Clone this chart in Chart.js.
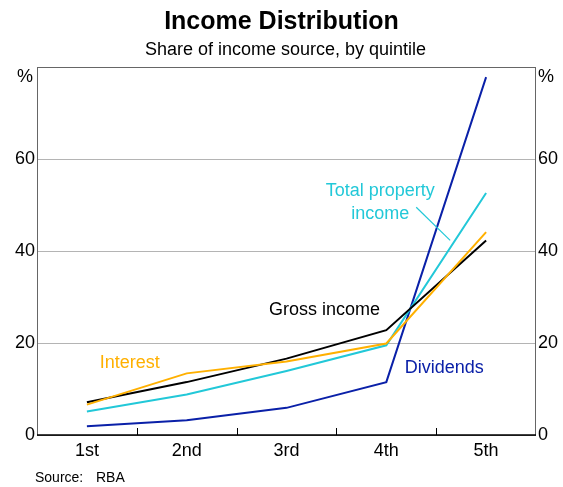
<!DOCTYPE html>
<html>
<head>
<meta charset="utf-8">
<script src="https://cdn.jsdelivr.net/npm/chart.js@4.4.1/dist/chart.umd.min.js"></script>
<style>
  html, body { margin: 0; padding: 0; background: #ffffff; }
  #wrap { width: 563px; height: 487px; }
</style>
</head>
<body>
<div id="wrap"><canvas id="c" width="563" height="487"></canvas></div>
<script>
// Income quintiles and each income source's share (%)
const quintiles = ['1st', '2nd', '3rd', '4th', '5th'];
const interest = [6.6, 13.4, 16.0, 19.9, 44.1];
const grossIncome = [7.1, 11.5, 16.6, 22.8, 42.3];
const totalProperty = [5.1, 8.8, 13.9, 19.5, 52.6];
const dividends = [1.9, 3.2, 5.9, 11.5, 77.8];
const yTicks = [0, 20, 40, 60, 80];

const FONT = '"Liberation Sans", Arial, sans-serif';
const C_INTEREST = '#FFB000';
const C_GROSS = '#000000';
const C_TOTAL = '#22C8D8';
const C_DIV = '#0A20A8';

// Series labels placed in data space (category index, value)
const seriesLabels = [
  { text: ['Interest'], color: C_INTEREST, x: 0.43, y: 15.6 },
  { text: ['Gross income'], color: C_GROSS, x: 2.38, y: 27.1 },
  { text: ['Dividends'], color: C_DIV, x: 3.58, y: 14.5 },
  { text: ['Total property', 'income'], color: C_TOTAL, x: 2.94, y: 53.0 }
];
const leader = { color: C_TOTAL, from: [3.30, 49.5], to: [3.64, 42.3] };

const decor = {
  id: 'decor',
  afterDatasetsDraw(chart) {
    const ctx = chart.ctx;
    const a = chart.chartArea;
    const xs = chart.scales.x, ys = chart.scales.y;
    ctx.save();
    // plot frame
    ctx.strokeStyle = '#666666';
    ctx.lineWidth = 1;
    ctx.strokeRect(a.left + 0.5, a.top + 0.5, a.right - a.left - 1, a.bottom - a.top);
    // zero axis
    ctx.strokeStyle = '#000000';
    ctx.lineWidth = 1.5;
    ctx.beginPath();
    ctx.moveTo(a.left, a.bottom);
    ctx.lineTo(a.right, a.bottom);
    ctx.stroke();
    // category boundary ticks pointing into the plot
    ctx.lineWidth = 1;
    for (let i = 0; i < quintiles.length - 1; i++) {
      const px = Math.round((xs.getPixelForValue(i) + xs.getPixelForValue(i + 1)) / 2) + 0.5;
      ctx.beginPath();
      ctx.moveTo(px, a.bottom);
      ctx.lineTo(px, a.bottom - 7);
      ctx.stroke();
    }
    // series labels
    ctx.font = '18px ' + FONT;
    ctx.textAlign = 'center';
    ctx.textBaseline = 'middle';
    seriesLabels.forEach(l => {
      ctx.fillStyle = l.color;
      const px = xs.getPixelForValue(l.x);
      let py = ys.getPixelForValue(l.y);
      l.text.forEach(t => { ctx.fillText(t, px, py); py += 23; });
    });
    // leader line for the total property label
    ctx.strokeStyle = leader.color;
    ctx.lineWidth = 1.2;
    ctx.beginPath();
    ctx.moveTo(xs.getPixelForValue(leader.from[0]), ys.getPixelForValue(leader.from[1]));
    ctx.lineTo(xs.getPixelForValue(leader.to[0]), ys.getPixelForValue(leader.to[1]));
    ctx.stroke();
    // unit markers
    ctx.fillStyle = '#000000';
    ctx.font = '18px ' + FONT;
    ctx.fillText('%', a.left - 12, a.top + 10);
    ctx.fillText('%', a.right + 10, a.top + 10);
    // title, subtitle, source
    ctx.font = 'bold 25px ' + FONT;
    ctx.fillText('Income Distribution', chart.width / 2, 22);
    ctx.font = '18px ' + FONT;
    ctx.fillText('Share of income source, by quintile', chart.width / 2 + 4, 50);
    ctx.font = '14px ' + FONT;
    ctx.textAlign = 'left';
    ctx.fillText('Source:', 35, 478);
    ctx.fillText('RBA', 96, 478);
    ctx.restore();
  }
};

const line = (label, data, color) => ({
  label, data, borderColor: color, backgroundColor: color,
  borderWidth: 2, pointRadius: 0, tension: 0, fill: false
});

new Chart(document.getElementById('c'), {
  type: 'line',
  data: {
    labels: quintiles,
    datasets: [
      line('Interest', interest, C_INTEREST),
      line('Gross income', grossIncome, C_GROSS),
      line('Total property income', totalProperty, C_TOTAL),
      line('Dividends', dividends, C_DIV)
    ]
  },
  options: {
    responsive: false,
    animation: false,
    devicePixelRatio: 1,
    layout: { padding: { top: 67, left: 0, right: 0, bottom: 0 } },
    plugins: { legend: { display: false }, tooltip: { enabled: false }, title: { display: false } },
    scales: {
      x: {
        offset: true,
        grid: { display: false, drawTicks: false },
        border: { display: false },
        ticks: { color: '#000', font: { family: FONT, size: 18 }, padding: 5, maxRotation: 0 },
        afterFit(s) { s.height = 52; }
      },
      y: {
        position: 'left', min: 0, max: 80,
        afterBuildTicks(s) { s.ticks = yTicks.map(v => ({ value: v })); },
        grid: { color: '#B4B4B4', drawTicks: false, lineWidth: 1 },
        border: { display: false },
        ticks: { color: '#000', font: { family: FONT, size: 18 }, padding: 2,
                 callback: v => (v === 80 ? '' : v) },
        afterFit(s) { s.width = 37; }
      },
      y2: {
        position: 'right', min: 0, max: 80,
        afterBuildTicks(s) { s.ticks = yTicks.map(v => ({ value: v })); },
        grid: { display: false, drawTicks: false },
        border: { display: false },
        ticks: { color: '#000', font: { family: FONT, size: 18 }, padding: 2,
                 callback: v => (v === 80 ? '' : v) },
        afterFit(s) { s.width = 27; }
      }
    }
  },
  plugins: [decor]
});
</script>
</body>
</html>
